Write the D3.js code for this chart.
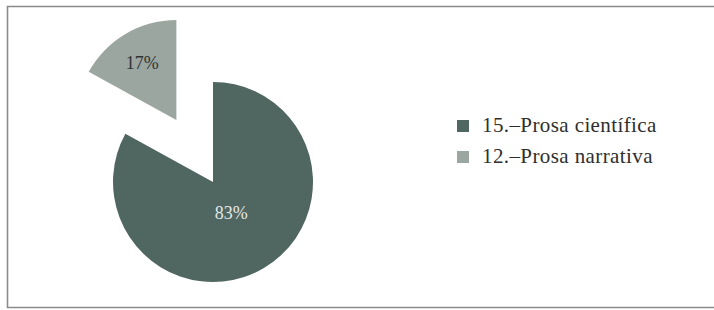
<!DOCTYPE html>
<html>
<head>
<meta charset="utf-8">
<script src="https://cdn.jsdelivr.net/npm/d3@7"></script>
<style>
  html, body { margin: 0; padding: 0; background: #fff; }
  svg { display: block; }
</style>
</head>
<body>
<svg id="chart" width="714" height="310"></svg>
<script>
// Data
const categories = ["15.–Prosa científica", "12.–Prosa narrativa"];
const values = [83, 17];
const valueLabels = ["83%", "17%"];

const W = 714, H = 310;
const svg = d3.select("#chart");

// frame
svg.append("path")
  .attr("d", "M716,6.5 H7.5 V307.5 H716")
  .attr("fill", "none")
  .attr("stroke", "#8a8a8a")
  .attr("stroke-width", 1.6);

const colors = d3.scaleOrdinal().domain(categories).range(["#506660", "#9ca6a1"]);
const labelColors = d3.scaleOrdinal().domain(categories).range(["#e4e6e5", "#2f3432"]);
const explode = d3.scaleOrdinal().domain(categories).range([0, 72]);
const labelFrac = d3.scaleOrdinal().domain(categories).range([0.36, 0.67]);

const cx = 213, cy = 182, r = 100;
const pie = d3.pie().sort(null).value(d => d.v);
const arcs = pie(categories.map((c, i) => ({ c, v: values[i], label: valueLabels[i] })));
const arc = d3.arc().innerRadius(0).outerRadius(r);

const g = svg.append("g").attr("transform", `translate(${cx},${cy})`);
const slices = g.selectAll("g.slice").data(arcs).enter().append("g")
  .attr("class", "slice")
  .attr("transform", d => {
    const a = (d.startAngle + d.endAngle) / 2;
    const o = explode(d.data.c);
    return `translate(${Math.sin(a) * o},${-Math.cos(a) * o})`;
  });

slices.append("path")
  .attr("d", arc)
  .attr("fill", d => colors(d.data.c));

slices.append("text")
  .attr("transform", d => {
    const a = (d.startAngle + d.endAngle) / 2;
    const lr = r * labelFrac(d.data.c);
    return `translate(${Math.sin(a) * lr},${-Math.cos(a) * lr})`;
  })
  .attr("text-anchor", "middle")
  .attr("dy", "0.35em")
  .attr("font-family", "'Liberation Serif', 'Times New Roman', serif")
  .attr("font-size", 18)
  .attr("fill", d => labelColors(d.data.c))
  .text(d => d.data.label);

// legend
const ly = d3.scalePoint().domain(categories).range([126, 157]);
const leg = svg.append("g").selectAll("g").data(categories).enter().append("g")
  .attr("transform", d => `translate(457,${ly(d)})`);
leg.append("rect")
  .attr("x", 0).attr("y", -6)
  .attr("width", 12).attr("height", 12)
  .attr("fill", d => colors(d));
leg.append("text")
  .attr("x", 25).attr("y", 6)
  .attr("font-family", "'Liberation Serif', 'Times New Roman', serif")
  .attr("font-size", 21)
  .attr("letter-spacing", 0.4)
  .attr("fill", "#2e2e2e")
  .text(d => d);
</script>
</body>
</html>
